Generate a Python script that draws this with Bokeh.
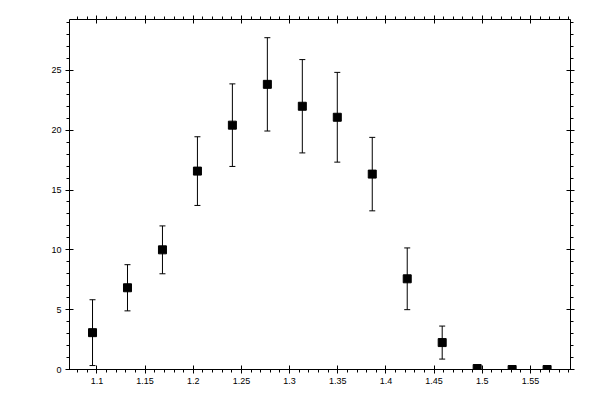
from bokeh.plotting import figure
from bokeh.models import (LinearAxis, SingleIntervalTicker, CustomJSTickFormatter,
                          Whisker, ColumnDataSource, Range1d, TeeHead)
from bokeh.embed import file_html
from bokeh.resources import INLINE

# data
x_vals = [1.0954, 1.1317, 1.1680, 1.2043, 1.2406, 1.2769, 1.3132,
          1.3495, 1.3858, 1.4221, 1.4584, 1.4947, 1.5310, 1.5673]
y_vals = [3.08, 6.83, 10.0, 16.58, 20.42, 23.83, 22.0,
          21.08, 16.33, 7.58, 2.25, 0.08, 0.0, 0.0]
y_err = [2.75, 1.93, 2.0, 2.87, 3.45, 3.9, 3.9,
         3.75, 3.07, 2.58, 1.38, 0.0, 0.0, 0.0]

lower = [y - e for y, e in zip(y_vals, y_err)]
upper = [y + e for y, e in zip(y_vals, y_err)]
src = ColumnDataSource(dict(x=x_vals, y=y_vals, lower=lower, upper=upper))

p = figure(width=592, height=392, output_backend="svg", toolbar_location=None,
           x_range=Range1d(1.0715, 1.5916), y_range=Range1d(0, 29.25),
           min_border_left=69, min_border_right=22, min_border_top=19,
           min_border_bottom=23, x_axis_location=None, y_axis_location=None)
p.grid.visible = False
p.outline_line_color = None
p.background_fill_color = "white"
p.border_fill_color = "white"

fmt = CustomJSTickFormatter(code="return Number(tick.toFixed(2)).toString();")

def style(ax, labels=True):
    ax.axis_line_color = "black"
    ax.axis_line_width = 1
    ax.major_tick_line_color = "black"
    ax.minor_tick_line_color = "black"
    ax.major_tick_in = 4
    ax.major_tick_out = 4
    ax.minor_tick_in = 0
    ax.minor_tick_out = 3
    ax.major_label_text_font = "Liberation Sans"
    ax.major_label_text_font_size = "9px"
    ax.major_label_text_color = "black" if labels else None
    ax.major_label_standoff = 4 if labels else 0

for loc, labels in (("below", True), ("above", False)):
    ax = LinearAxis(ticker=SingleIntervalTicker(interval=0.05, num_minor_ticks=5),
                    formatter=fmt)
    style(ax, labels)
    p.add_layout(ax, loc)

for loc, labels in (("left", True), ("right", False)):
    ax = LinearAxis(ticker=SingleIntervalTicker(interval=5, num_minor_ticks=5),
                    formatter=fmt)
    style(ax, labels)
    p.add_layout(ax, loc)

w = Whisker(source=src, base="x", lower="lower", upper="upper", dimension="height",
            line_color="black", line_width=1,
            lower_head=TeeHead(size=6, line_color="black", line_width=1),
            upper_head=TeeHead(size=6, line_color="black", line_width=1))
p.add_layout(w)

p.scatter("x", "y", source=src, marker="square", size=8,
          fill_color="black", line_color="black")

open("out.html", "w").write(file_html(p, INLINE))
